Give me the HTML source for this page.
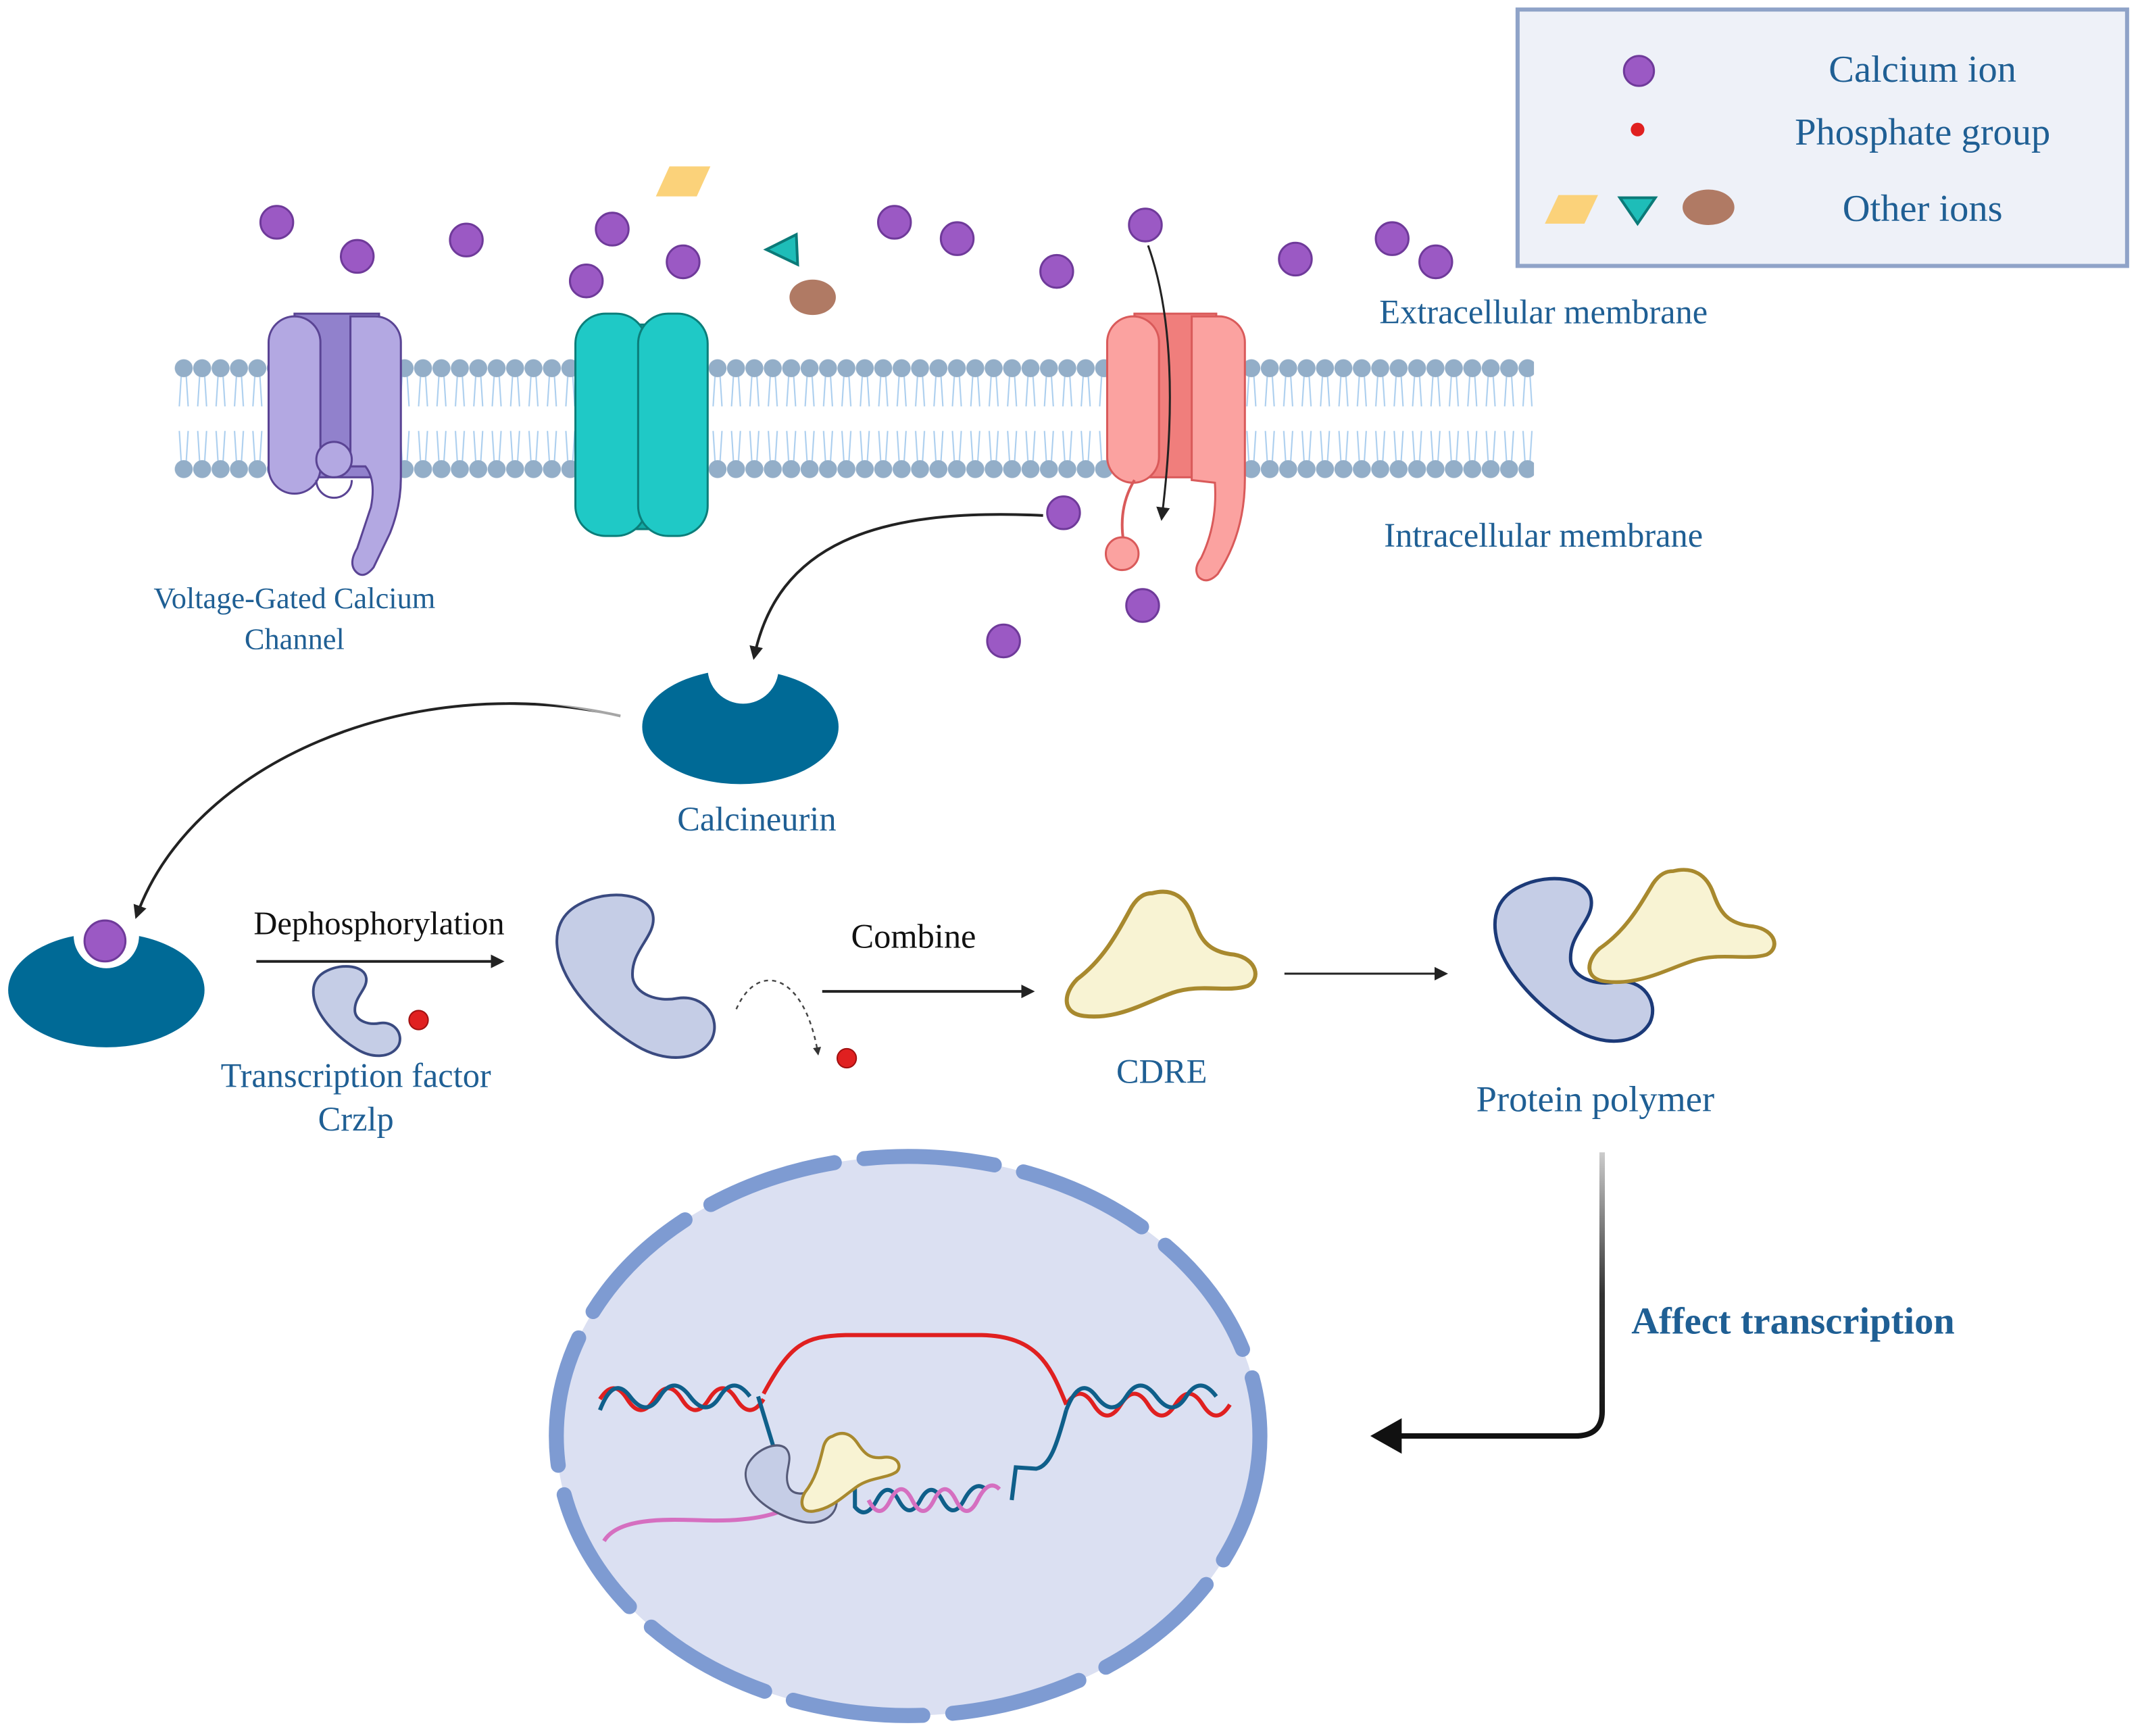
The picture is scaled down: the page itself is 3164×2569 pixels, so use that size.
<!DOCTYPE html>
<html><head><meta charset="utf-8"><style>
html,body{margin:0;padding:0;background:#fff;}
svg{display:block;}
text{font-family:"Liberation Serif",serif;}
</style></head><body>
<svg width="3164" height="2569" viewBox="0 0 1568 1273" preserveAspectRatio="none" xmlns="http://www.w3.org/2000/svg">
<defs>
<pattern id="lip" x="128" y="262" width="13.5" height="90" patternUnits="userSpaceOnUse">
<g stroke="#a9cdee" stroke-width="1" fill="none">
<path d="M5,12 L3.5,36 M8.5,12 L10,36 M5,78 L3.5,54 M8.5,78 L10,54"/>
</g>
<circle cx="6.75" cy="8" r="6.6" fill="#93aec8"/>
<circle cx="6.75" cy="82" r="6.6" fill="#93aec8"/>
</pattern>
<path id="prot" d="M -40,-55 C -20,-65 10,-62 12,-45 C 14,-30 -5,-20 -3,0 C -1,12 15,18 30,15 C 50,12 62,30 55,45 C 45,62 20,62 0,50 C -25,35 -50,10 -57,-15 C -62,-35 -55,-48 -40,-55 Z"/>
<path id="cdre" d="M -5,-48 C 10,-52 20,-45 25,-30 C 30,-15 35,-5 55,-3 C 72,0 75,15 65,20 C 50,25 30,18 10,25 C -10,32 -30,45 -55,42 C -72,40 -70,25 -60,15 C -40,0 -30,-20 -20,-38 C -15,-46 -10,-48 -5,-48 Z"/>
<marker id="ah" markerWidth="10" markerHeight="10" refX="8" refY="5" orient="auto" markerUnits="userSpaceOnUse"><path d="M0,0 L10,5 L0,10 Z" fill="#222"/></marker>
<marker id="ahs" markerWidth="6" markerHeight="6" refX="5" refY="3" orient="auto" markerUnits="userSpaceOnUse"><path d="M0,0 L6,3 L0,6 Z" fill="#333"/></marker>
<linearGradient id="gv" x1="0" y1="0" x2="0" y2="1"><stop offset="0" stop-color="#ccc"/><stop offset="0.5" stop-color="#333"/><stop offset="1" stop-color="#111"/></linearGradient>
</defs>

<rect x="1113" y="7" width="447" height="188" fill="#eef1f8" stroke="#8fa3c8" stroke-width="3"/>
<circle cx="1202" cy="52" r="11" fill="#9b59c4" stroke="#6f3a9a" stroke-width="1.5"/>
<circle cx="1201" cy="95" r="5" fill="#e02020"/>
<path d="M1143,143 L1172,143 L1162,164 L1133,164 Z" fill="#fbd27a"/>
<path d="M1188,145 L1214,145 L1201,164 Z" fill="#1ebdb8" stroke="#0b7a78" stroke-width="2"/>
<ellipse cx="1253" cy="152" rx="19" ry="13" fill="#b07a64"/>
<g fill="#1f5f94" font-size="28" text-anchor="middle">
<text x="1410" y="60">Calcium ion</text>
<text x="1410" y="106">Phosphate group</text>
<text x="1410" y="162">Other ions</text>
<text x="1132" y="237" font-size="25">Extracellular membrane</text>
<text x="1132" y="401" font-size="25">Intracellular membrane</text>
<text x="216" y="446" font-size="22">Voltage-Gated Calcium</text>
<text x="216" y="476" font-size="22">Channel</text>
<text x="555" y="609" font-size="25">Calcineurin</text>
<text x="261" y="797" font-size="25">Transcription factor</text>
<text x="261" y="829" font-size="25">Crzlp</text>
<text x="852" y="794" font-size="25">CDRE</text>
<text x="1170" y="815" font-size="27">Protein polymer</text>
<text x="1315" y="978" font-size="28" font-weight="bold">Affect transcription</text>
</g>

<rect x="128" y="262" width="997" height="90" fill="url(#lip)"/>

<g stroke="#5a4494" stroke-width="1.5">
<rect x="216" y="230" width="62" height="120" fill="#9181cc"/>
<rect x="197" y="232" width="38" height="130" rx="19" fill="#b3a8e2"/>
<path d="M257,232 h18 a19,19 0 0 1 19,19 v100 q0,20 -8,40 l-12,25 q-8,10 -14,2 q-4,-6 2,-16 l10,-30 q4,-20 -4,-30 l-11,0 z" fill="#b3a8e2"/>
<circle cx="245" cy="337" r="13" fill="#b3a8e2"/>
<path d="M232,352 a13,13 0 0 0 26,0" fill="none"/>
</g>

<g stroke="#0b7e7a" stroke-width="1.5">
<rect x="440" y="238" width="60" height="150" fill="#12aaa5"/>
<rect x="422" y="230" width="52" height="163" rx="22" fill="#1fc9c6"/>
<rect x="468" y="230" width="51" height="163" rx="22" fill="#1fc9c6"/>
</g>

<g stroke="#d95a5a" stroke-width="1.5">
<rect x="832" y="230" width="60" height="120" fill="#f07e7c"/>
<rect x="812" y="232" width="38" height="122" rx="19" fill="#fba2a0"/>
<path d="M874,232 h20 a19,19 0 0 1 19,19 v100 q0,40 -20,70 q-8,8 -14,2 q-4,-6 2,-14 q12,-25 10,-55 l-17,-2 z" fill="#fba2a0"/>
<path d="M832,352 q-12,20 -8,45" fill="none" stroke-width="2"/>
<circle cx="823" cy="406" r="12" fill="#fba2a0"/>
</g>

<g fill="#9b59c4" stroke="#6f3a9a" stroke-width="1.5">
<circle cx="203" cy="163" r="12"/><circle cx="262" cy="188" r="12"/><circle cx="342" cy="176" r="12"/>
<circle cx="449" cy="168" r="12"/><circle cx="430" cy="206" r="12"/><circle cx="501" cy="192" r="12"/>
<circle cx="656" cy="163" r="12"/><circle cx="702" cy="175" r="12"/><circle cx="775" cy="199" r="12"/>
<circle cx="840" cy="165" r="12"/><circle cx="950" cy="190" r="12"/><circle cx="1021" cy="175" r="12"/>
<circle cx="1053" cy="192" r="12"/><circle cx="780" cy="376" r="12"/><circle cx="838" cy="444" r="12"/>
<circle cx="736" cy="470" r="12"/>
</g>
<path d="M491,122 L521,122 L511,144 L481,144 Z" fill="#fbd27a"/>
<path d="M562,183 L584,172 L585,194 Z" fill="#1ebdb8" stroke="#0b7a78" stroke-width="2"/>
<ellipse cx="596" cy="218" rx="17" ry="13" fill="#b07a64"/>

<path d="M842,180 C860,230 862,300 852,380" fill="none" stroke="#222" stroke-width="1.5" marker-end="url(#ah)"/>

<ellipse cx="543" cy="533" rx="72" ry="42" fill="#006a96"/>
<circle cx="545" cy="490" r="26" fill="#fff"/>
<path d="M765,378 C640,372 570,400 553,482" fill="none" stroke="#222" stroke-width="2" marker-end="url(#ah)"/>
<path d="M455,525 C300,490 140,560 100,672" fill="none" stroke="#222" stroke-width="2" marker-end="url(#ah)"/>
<path d="M455,525 C420,515 390,512 370,513" fill="none" stroke="#fff" stroke-width="4" opacity="0.6"/>

<ellipse cx="78" cy="726" rx="72" ry="42" fill="#006a96"/>
<circle cx="78" cy="686" r="24" fill="#fff"/>
<circle cx="77" cy="690" r="15" fill="#9b59c4" stroke="#6f3a9a" stroke-width="1.5"/>

<text x="278" y="685" font-size="24" text-anchor="middle" fill="#111">Dephosphorylation</text>
<line x1="188" y1="705" x2="368" y2="705" stroke="#222" stroke-width="2" marker-end="url(#ah)"/>
<use href="#prot" transform="translate(262,742) scale(0.55)" fill="#c5cde6" stroke="#3a4a80" stroke-width="3.5"/>
<circle cx="307" cy="748" r="7" fill="#e02020" stroke="#a01010"/>
<use href="#prot" transform="translate(467,717)" fill="#c5cde6" stroke="#3a4a80" stroke-width="2"/>
<path d="M540,740 C555,705 590,712 600,773" fill="none" stroke="#444" stroke-width="1.2" stroke-dasharray="3,3" marker-end="url(#ahs)"/>
<circle cx="621" cy="776" r="7" fill="#e02020" stroke="#a01010"/>
<text x="670" y="695" font-size="25" text-anchor="middle" fill="#111">Combine</text>
<line x1="603" y1="727" x2="757" y2="727" stroke="#222" stroke-width="2" marker-end="url(#ah)"/>
<use href="#cdre" transform="translate(850,703)" fill="#f8f3d3" stroke="#a8892e" stroke-width="3"/>
<line x1="942" y1="714" x2="1060" y2="714" stroke="#222" stroke-width="1.5" marker-end="url(#ah)"/>
<use href="#prot" transform="translate(1155,705)" fill="#c5cde6" stroke="#1c3a78" stroke-width="2.5"/>
<use href="#cdre" transform="translate(1232,682) scale(0.98,0.9)" fill="#f8f3d3" stroke="#a8892e" stroke-width="3"/>

<path d="M1175,845 L1175,1035 Q1175,1053 1155,1053 L1025,1053" fill="none" stroke="url(#gv)" stroke-width="4"/>
<path d="M1005,1053 L1028,1040 L1028,1066 Z" fill="#111"/>

<ellipse cx="666" cy="1053" rx="258" ry="205" fill="#dbe0f2"/>
<ellipse cx="666" cy="1053" rx="258" ry="205" fill="none" stroke="#7e9bd2" stroke-width="11" stroke-linecap="round" stroke-dasharray="96,22"/>

<g fill="none" stroke-width="3">
<path d="M440,1026 q10,-16 20,0 t20,0 t20,0 t20,0 t20,0 t20,0" stroke="#e02020"/>
<path d="M440,1034 q10,-26 22,-10 t22,0 t22,0 t22,0 t22,0" stroke="#0f5f8a"/>
<path d="M560,1022 C580,985 590,980 620,979 L720,979 C760,980 770,1000 782,1030" stroke="#e02020"/>
<path d="M782,1030 q10,-16 20,0 t20,0 t20,0 t20,0 t20,0 t20,0" stroke="#e02020"/>
<path d="M782,1034 q10,-26 22,-10 t22,0 t22,0 t22,0 t22,0" stroke="#0f5f8a"/>
<path d="M556,1024 L570,1070" stroke="#0f5f8a"/>
<path d="M782,1034 C775,1060 770,1075 760,1077 L745,1076 L742,1100" stroke="#0f5f8a"/>
<path d="M627,1090 L627,1105 q8,10 16,-5 t16,0 t16,0 t16,0 t16,0 t16,-8" stroke="#0f5f8a"/>
<path d="M637,1100 q8,16 16,0 t16,0 t16,0 t16,0 t16,0 t16,-8" stroke="#d56fc0"/>
<path d="M443,1130 C455,1110 500,1115 525,1115 C555,1115 570,1110 580,1105" stroke="#d56fc0"/>
</g>
<use href="#prot" transform="translate(580,1090) scale(0.5,0.55) rotate(-20)" fill="#c5cde6" stroke="#555a78" stroke-width="3"/>
<use href="#cdre" transform="translate(620,1078) scale(0.55) rotate(-15)" fill="#f8f3d3" stroke="#a8892e" stroke-width="4"/>
</svg>
</body></html>
